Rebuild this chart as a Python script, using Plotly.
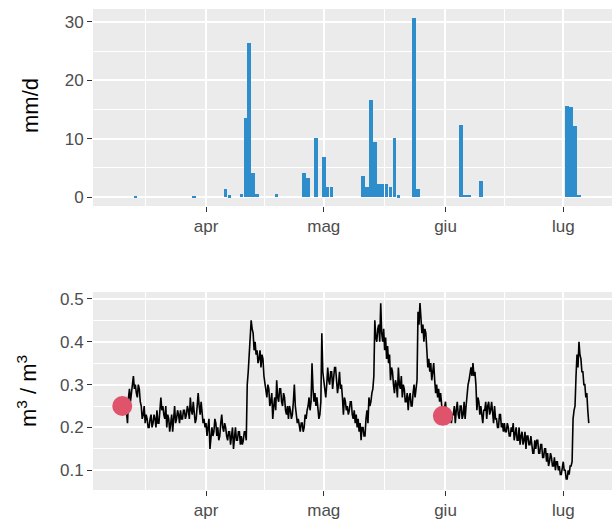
import plotly.graph_objects as go
import pandas as pd

# ---------------- data ----------------
RAIN_DATES = ["2021-03-14", "2021-03-29", "2021-04-06", "2021-04-07", "2021-04-10",
              "2021-04-11", "2021-04-12", "2021-04-13", "2021-04-14", "2021-04-19",
              "2021-04-26", "2021-04-27", "2021-04-29", "2021-05-01", "2021-05-02",
              "2021-05-03", "2021-05-11", "2021-05-12", "2021-05-13", "2021-05-14",
              "2021-05-15", "2021-05-16", "2021-05-17", "2021-05-18", "2021-05-19",
              "2021-05-20", "2021-05-24", "2021-05-25", "2021-06-05", "2021-06-06",
              "2021-06-07", "2021-06-10", "2021-07-02", "2021-07-03", "2021-07-04",
              "2021-07-05"]
RAIN_MM = [0.2, 0.2, 1.3, 0.3, 0.6,
           13.5, 26.3, 4.1, 0.6, 0.6,
           4.2, 3.3, 10.1, 6.9, 1.8,
           1.8, 3.6, 1.8, 16.6, 9.5,
           2.3, 2.3, 2.3, 1.7, 10.1,
           0.3, 30.6, 1.4, 12.3, 0.4,
           0.4, 2.7, 15.6, 15.5, 12.1,
           0.4]

# soil moisture, one reading every 6 hours from 10 March 12:00
SM_START = "2021-03-10 12:00"
SM_STEP = "6h"
SM_VALUES = [
    0.25, 0.23,
    0.24, 0.27, 0.26, 0.22,  0.21, 0.27, 0.29, 0.26,  0.28, 0.31, 0.32, 0.29,
    0.30, 0.28, 0.27, 0.30,  0.29, 0.26, 0.25, 0.22,  0.23, 0.25, 0.21, 0.23,
    0.22, 0.20, 0.20, 0.22,  0.23, 0.20, 0.21, 0.23,  0.22, 0.20, 0.24, 0.21,
    0.21, 0.24, 0.27, 0.24,  0.25, 0.23, 0.22, 0.25,  0.20, 0.23, 0.22, 0.19,
    0.21, 0.23, 0.19, 0.22,  0.25, 0.21, 0.22, 0.24,  0.23, 0.21, 0.24, 0.22,
    0.22, 0.24, 0.24, 0.22,  0.23, 0.25, 0.24, 0.22,  0.27, 0.24, 0.23, 0.26,
    0.24, 0.21, 0.22, 0.25,  0.28, 0.25, 0.23, 0.26,  0.24, 0.21, 0.22, 0.20,
    0.21, 0.18, 0.20, 0.22,  0.15, 0.19, 0.20, 0.18,  0.19, 0.22, 0.21, 0.18,
    0.20, 0.17, 0.18, 0.21,  0.23, 0.20, 0.19, 0.21,  0.20, 0.18, 0.17, 0.19,
    0.19, 0.16, 0.18, 0.20,  0.15, 0.18, 0.20, 0.17,  0.17, 0.19, 0.19, 0.16,
    0.18, 0.16, 0.17, 0.19,  0.19, 0.17, 0.30, 0.33,  0.37, 0.41, 0.45, 0.43,
    0.42, 0.38, 0.40, 0.37,  0.38, 0.35, 0.36, 0.38,  0.34, 0.37, 0.36, 0.32,
    0.30, 0.28, 0.27, 0.30,  0.29, 0.25, 0.26, 0.28,  0.22, 0.25, 0.27, 0.24,
    0.31, 0.27, 0.26, 0.29,  0.29, 0.26, 0.25, 0.28,  0.27, 0.24, 0.23, 0.25,
    0.22, 0.25, 0.24, 0.22,  0.23, 0.26, 0.30, 0.25,  0.23, 0.21, 0.22, 0.20,
    0.19, 0.21, 0.21, 0.19,  0.20, 0.23, 0.22, 0.24,  0.25, 0.27, 0.24, 0.26,
    0.35, 0.29, 0.26, 0.28,  0.25, 0.27, 0.24, 0.22,  0.23, 0.26, 0.42, 0.33,
    0.31, 0.28, 0.27, 0.30,  0.34, 0.31, 0.30, 0.33,  0.33, 0.29, 0.31, 0.34,
    0.34, 0.31, 0.28, 0.30,  0.33, 0.29, 0.30, 0.27,  0.23, 0.27, 0.26, 0.24,
    0.25, 0.23, 0.24, 0.26,  0.26, 0.23, 0.22, 0.24,  0.21, 0.23, 0.20, 0.22,
    0.19, 0.21, 0.17, 0.20,  0.20, 0.18, 0.18, 0.22,  0.24, 0.21, 0.27, 0.25,
    0.26, 0.28, 0.29, 0.32,  0.45, 0.41, 0.40, 0.43,  0.44, 0.40, 0.49, 0.42,
    0.40, 0.43, 0.38, 0.41,  0.36, 0.39, 0.35, 0.37,  0.31, 0.34, 0.33, 0.30,
    0.28, 0.31, 0.30, 0.27,  0.34, 0.30, 0.29, 0.32,  0.27, 0.30, 0.29, 0.26,
    0.26, 0.28, 0.24, 0.27,  0.28, 0.25, 0.25, 0.28,  0.30, 0.27, 0.29, 0.31,
    0.47, 0.44, 0.49, 0.45,  0.42, 0.44, 0.40, 0.43,  0.42, 0.38, 0.34, 0.36,
    0.33, 0.35, 0.31, 0.33,  0.35, 0.31, 0.28, 0.30,  0.27, 0.29, 0.26, 0.28,
    0.25, 0.23, 0.23, 0.25,  0.26, 0.23, 0.22, 0.24,  0.24, 0.22, 0.21, 0.23,
    0.23, 0.25, 0.21, 0.24,  0.26, 0.23, 0.22, 0.25,  0.25, 0.22, 0.23, 0.26,
    0.22, 0.25, 0.28, 0.30,  0.31, 0.33, 0.34, 0.32,  0.35, 0.32, 0.33, 0.30,
    0.24, 0.27, 0.26, 0.23,  0.25, 0.23, 0.21, 0.24,  0.24, 0.26, 0.22, 0.25,
    0.26, 0.23, 0.24, 0.26,  0.23, 0.21, 0.25, 0.22,  0.22, 0.20, 0.20, 0.23,
    0.23, 0.20, 0.21, 0.19,  0.21, 0.19, 0.19, 0.21,  0.20, 0.18, 0.18, 0.20,
    0.19, 0.21, 0.17, 0.19,  0.20, 0.17, 0.17, 0.20,  0.16, 0.18, 0.19, 0.16,
    0.17, 0.19, 0.15, 0.18,  0.18, 0.16, 0.16, 0.18,  0.16, 0.14, 0.14, 0.17,
    0.15, 0.17, 0.17, 0.14,  0.14, 0.16, 0.16, 0.13,  0.13, 0.15, 0.15, 0.12,
    0.14, 0.11, 0.12, 0.14,  0.13, 0.11, 0.11, 0.13,  0.10, 0.12, 0.12, 0.10,
    0.11, 0.09, 0.09, 0.11,  0.12, 0.10, 0.10, 0.08,  0.08, 0.10, 0.09, 0.11,
    0.11, 0.12, 0.22, 0.24,  0.25, 0.32, 0.37, 0.34,  0.40, 0.37, 0.36, 0.33,
    0.33, 0.30, 0.30, 0.27,  0.28, 0.24, 0.21,
]

MARK_DATES = ["2021-03-10 16:00", "2021-05-31 08:00"]
MARK_VALUES = [0.25, 0.227]

MONTH_TICKS = ["2021-04-01", "2021-05-01", "2021-06-01", "2021-07-01"]
MONTH_LABELS = ["apr", "mag", "giu", "lug"]
MINOR_TICKS = ["2021-03-16 12:00", "2021-04-16", "2021-05-16 12:00", "2021-06-16"]
X_RANGE = ["2021-03-03 05:00", "2021-07-13 10:00"]

RAIN_TICKS = [0, 10, 20, 30]
RAIN_MINOR = [5, 15, 25]
SM_TICKS = [0.1, 0.2, 0.3, 0.4, 0.5]
SM_TICK_LABELS = ["0.1", "0.2", "0.3", "0.4", "0.5"]
SM_MINOR = [0.15, 0.25, 0.35, 0.45]

# ---------------- figure ----------------
sm_time = pd.date_range(SM_START, periods=len(SM_VALUES), freq=SM_STEP)

FONT = "Liberation Sans, Arial, sans-serif"
TICKFONT = dict(family=FONT, size=17, color="#4D4D4D")

fig = go.Figure()
fig.add_trace(go.Bar(x=RAIN_DATES, y=RAIN_MM, marker=dict(color="#2E8ECB", line=dict(width=0)),
                     width=0.9 * 86400000, xaxis="x", yaxis="y", showlegend=False))
fig.add_trace(go.Scatter(x=sm_time, y=SM_VALUES, mode="lines",
                         line=dict(color="black", width=1.6),
                         xaxis="x2", yaxis="y2", showlegend=False))
fig.add_trace(go.Scatter(x=MARK_DATES, y=MARK_VALUES, mode="markers",
                         marker=dict(color="#DF536B", size=20, line=dict(width=0)),
                         xaxis="x2", yaxis="y2", showlegend=False))

xcommon = dict(type="date", range=X_RANGE, tickmode="array", tickvals=MONTH_TICKS,
               ticktext=MONTH_LABELS, showgrid=True, gridcolor="white", gridwidth=1.5,
               ticks="outside", ticklen=5, tickwidth=1.2, tickcolor="#333333",
               tickfont=TICKFONT, showline=False, zeroline=False, automargin=False,
               minor=dict(tickvals=MINOR_TICKS, showgrid=True, gridcolor="white",
                          gridwidth=0.7, ticks=""))

ycommon = dict(showgrid=True, gridcolor="white", gridwidth=1.5,
               ticks="outside", ticklen=5, tickwidth=1.2, tickcolor="#333333",
               tickfont=TICKFONT, zeroline=False, showline=False, automargin=False,
               tickmode="array")

fig.update_layout(
    width=615, height=522,
    margin=dict(l=93, r=3, t=9, b=32, autoexpand=False),
    paper_bgcolor="white", plot_bgcolor="#EBEBEB",
    bargap=0,
    xaxis=dict(anchor="y", domain=[0, 1], **xcommon),
    xaxis2=dict(anchor="y2", domain=[0, 1], **xcommon),
    yaxis=dict(domain=[0.5904, 1], range=[-1.54, 32.2], tickvals=RAIN_TICKS,
               minor=dict(tickvals=RAIN_MINOR, showgrid=True, gridcolor="white",
                          gridwidth=0.7, ticks=""), **ycommon),
    yaxis2=dict(domain=[0, 0.4116], range=[0.054, 0.516],
                tickvals=SM_TICKS, ticktext=SM_TICK_LABELS,
                minor=dict(tickvals=SM_MINOR, showgrid=True, gridcolor="white",
                           gridwidth=0.7, ticks=""), **ycommon),
    annotations=[
        dict(text="mm/d", xref="paper", yref="paper", x=(31 - 93) / 519, y=(490 - 106) / 481,
             xanchor="center", yanchor="middle", textangle=-90, showarrow=False,
             font=dict(family=FONT, size=22, color="black")),
        dict(text="m<sup>3</sup> / m<sup>3</sup>", xref="paper", yref="paper",
             x=(27 - 93) / 519, y=(490 - 391) / 481,
             xanchor="center", yanchor="middle", textangle=-90, showarrow=False,
             font=dict(family=FONT, size=22, color="black")),
    ],
)

fig.write_html("out.html", config={"displayModeBar": False},
               post_script="document.body.style.margin='0';")
